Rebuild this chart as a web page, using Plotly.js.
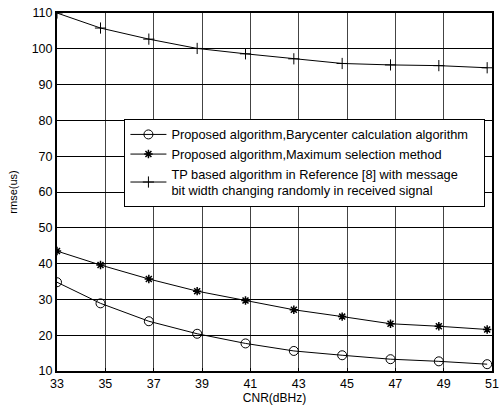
<!DOCTYPE html>
<html><head><meta charset="utf-8">
<script src="https://cdn.plot.ly/plotly-3.0.1.min.js"></script>
<style>html,body{margin:0;padding:0;background:#fff;}#chart{width:499px;height:408px;}</style>
</head><body><div id="chart"></div>
<script>
const cnr = [33, 34.8, 36.8, 38.8, 40.8, 42.8, 44.8, 46.8, 48.8, 50.8];
const barycenter = [34.8, 28.9, 23.9, 20.4, 17.7, 15.6, 14.4, 13.3, 12.7, 11.9];
const maxSelection = [43.5, 39.6, 35.7, 32.3, 29.7, 27.1, 25.2, 23.2, 22.5, 21.6];
const tpBased = [110, 105.8, 102.7, 100.1, 98.6, 97.2, 95.9, 95.5, 95.3, 94.7];
const xTicks = [33, 35, 37, 39, 41, 43, 45, 47, 49, 51];
const yTicks = [10, 20, 30, 40, 50, 60, 70, 80, 90, 100, 110];
const names = [
  'Proposed algorithm,Barycenter calculation algorithm',
  'Proposed algorithm,Maximum selection method',
  'TP based algorithm in Reference [8] with message<br>bit width changing randomly in received signal'
];
const pad = '\u00a0\u00a0\u00a0';
const lineStyle = {color: '#000', width: 1};
const traces = [
  {x: cnr, y: barycenter, name: names[0] + pad, mode: 'lines+markers', line: lineStyle,
   marker: {symbol: 'circle-open', size: 9, color: '#000', line: {width: 1}}},
  {x: cnr, y: maxSelection, name: names[1], mode: 'lines+markers', line: lineStyle,
   marker: {symbol: 'asterisk-open', size: 7, color: '#000', line: {width: 1.5}}},
  {x: cnr, y: tpBased, name: names[2], mode: 'lines+markers', line: lineStyle,
   marker: {symbol: 'cross-thin-open', size: 8, color: '#000', line: {width: 1}}}
];
const layout = {
  width: 499, height: 408,
  margin: {l: 57, r: 7, t: 13, b: 37},
  paper_bgcolor: '#fff', plot_bgcolor: '#fff',
  font: {family: 'Liberation Sans, Arial, sans-serif', size: 12.5, color: '#000'},
  showlegend: true,
  xaxis: {range: [33, 51], tickvals: xTicks, ticktext: xTicks.map(String),
    showgrid: true, gridcolor: '#444', gridwidth: 1, zeroline: false,
    showline: true, linecolor: '#000', linewidth: 1.5, mirror: true,
    ticks: 'inside', ticklen: 3, tickcolor: '#000',
    title: {text: 'CNR(dBHz)', font: {size: 12}, standoff: 2}},
  yaxis: {range: [10, 110], tickvals: yTicks, ticktext: yTicks.map(String),
    showgrid: true, gridcolor: '#000', gridwidth: 1, zeroline: false,
    showline: true, linecolor: '#000', linewidth: 2, mirror: true,
    ticks: 'inside', ticklen: 3, tickcolor: '#000',
    title: {text: 'rmse(us)', font: {size: 11}, standoff: 12}},
  legend: {x: 0.155, y: 0.705, xanchor: 'left', yanchor: 'top',
    bgcolor: '#fff', bordercolor: '#000', borderwidth: 1,
    font: {size: 12.8}, tracegroupgap: 0, itemwidth: 36}
};
Plotly.newPlot('chart', traces, layout, {displayModeBar: false});
</script></body></html>
